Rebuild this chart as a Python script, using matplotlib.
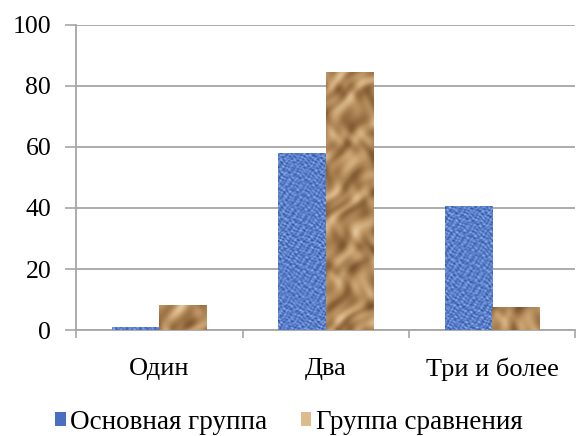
import numpy as np
import matplotlib.pyplot as plt
from matplotlib.colors import LinearSegmentedColormap
from matplotlib.patches import Patch

categories = ['Один', 'Два', 'Три и более']
main_group = [1, 58, 40.5]
comparison_group = [8.2, 84.5, 7.5]
series_names = ['Основная группа', 'Группа сравнения']
y_ticks = [0, 20, 40, 60, 80, 100]

plt.rcParams['font.family'] = ['Liberation Serif', 'DejaVu Serif']

blue_cmap = LinearSegmentedColormap.from_list(
    'weave', ['#243f88', '#3f63b4', '#6a8fd6', '#a9c1f0'])
tan_cmap = LinearSegmentedColormap.from_list(
    'paper', ['#6e4824', '#9c7346', '#c49c6a', '#e3c79c'])


def weave(h, w):
    yy, xx = np.mgrid[0:h, 0:w].astype(float)
    wx = xx + 1.2 * np.sin(yy * 0.43 + xx * 0.17)
    wy = yy + 1.2 * np.sin(xx * 0.51 - yy * 0.13)
    v = (0.55 + 0.25 * np.sin(wx * 2 * np.pi / 5.5) * np.sin(wy * 2 * np.pi / 5.5)
         + 0.15 * np.sin(xx * 0.93 + yy * 1.71) * np.sin(xx * 0.37 - yy * 0.53)
         + 0.12 * np.sin(yy * 0.29 + xx * 0.71) * np.cos(yy * 0.83 - xx * 0.19))
    return np.clip(v, 0, 1)


def crumple(h, w):
    yy, xx = np.mgrid[0:h, 0:w].astype(float)
    wx = xx + 6 * np.sin(yy * 0.05 + 0.8) + 3 * np.sin(yy * 0.13 + xx * 0.07)
    wy = yy + 5 * np.sin(xx * 0.09 + 1.7) + 3 * np.cos(xx * 0.05 - yy * 0.11)
    v = (0.6 + 0.16 * np.sin(0.17 * wx - 0.13 * wy)
         + 0.13 * np.sin(0.08 * wx + 0.21 * wy + 1.3)
         + 0.09 * np.sin(0.29 * wx - 0.31 * wy + 0.7)
         + 0.07 * np.sin(0.41 * wx + 0.12 * wy + 2.1)
         - 0.12 * np.abs(np.sin(0.06 * wx - 0.09 * wy + 0.4)) ** 0.3)
    return np.clip(v, 0, 1)


fig = plt.figure(figsize=(5.77, 4.36), dpi=100)
ax = fig.add_axes([0.132, 0.243, 0.865, 0.7])

x = np.arange(1, len(categories) + 1)
width = 0.285
bars_a = ax.bar(x - width / 2, main_group, width, color='#5a7fc8', zorder=2)
bars_b = ax.bar(x + width / 2, comparison_group, width, color='#c9a173', zorder=2)

# fill every bar with its texture, clipped to the bar outline
for bars, tex, cmap in [(bars_a, weave, blue_cmap), (bars_b, crumple, tan_cmap)]:
    for i, b in enumerate(bars):
        bx, by = b.get_x(), b.get_y()
        bw, bh = b.get_width(), b.get_height()
        h = max(int(bh * 3.05), 2)
        img = tex(h + 40 * i, 47)[40 * i:]
        im = ax.imshow(img, cmap=cmap, vmin=0, vmax=1, origin='lower',
                       extent=(bx, bx + bw, by, by + bh), aspect='auto',
                       interpolation='bilinear', zorder=3)
        im.set_clip_path(b)

ax.set_xlim(0.5, len(categories) + 0.5)
ax.set_ylim(0, 100)

ax.set_yticks(y_ticks)
ax.yaxis.grid(True, color='#a6a6a6', linewidth=1.3, zorder=0)
ax.set_axisbelow(True)

ax.set_xticks(x)
ax.set_xticklabels(categories, fontsize=19)
ax.set_xticks(np.arange(0.5, len(categories) + 1, 1), minor=True)
ax.tick_params(axis='x', which='major', length=0, pad=20)
ax.tick_params(axis='x', which='minor', length=6, color='#a6a6a6', width=1.2)
ax.tick_params(axis='y', length=8, color='#a6a6a6', width=1.2, pad=10,
               labelsize=18.5)

for side in ['top', 'right']:
    ax.spines[side].set_visible(False)
for side in ['left', 'bottom']:
    ax.spines[side].set_color('#a6a6a6')
    ax.spines[side].set_linewidth(1.3)

handles = [Patch(facecolor='#4a6fc0', edgecolor='none'),
           Patch(facecolor='#dcbb8c', edgecolor='none')]
fig.legend(handles, series_names, loc='center', bbox_to_anchor=(0.5, 0.032),
           ncol=2, frameon=False, fontsize=19.5, handlelength=0.4,
           handleheight=0.4, handletextpad=0.15, columnspacing=1.25)

fig.savefig('out.png', dpi=100)
